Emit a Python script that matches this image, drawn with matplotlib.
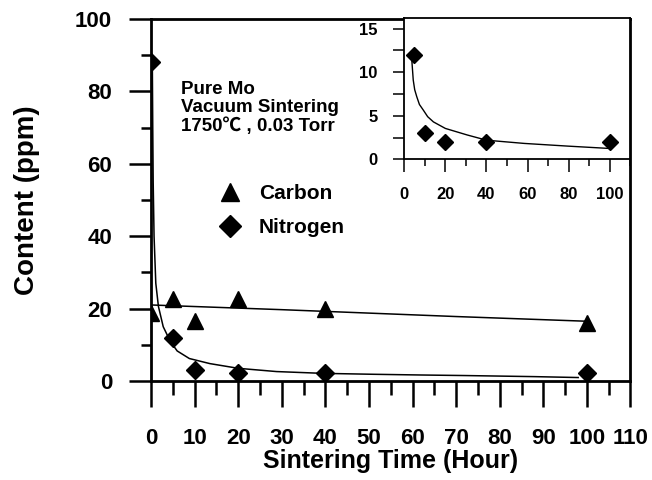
import matplotlib

matplotlib.use("Agg")
import matplotlib.pyplot as plt
from matplotlib.ticker import MultipleLocator
from matplotlib.lines import Line2D

plt.rcParams.update({
    "font.family": ["Liberation Sans", "Noto Sans CJK SC", "DejaVu Sans"],
    "font.weight": "bold",
})

# measured points
time_h = [0, 5, 10, 20, 40, 100]
carbon = [18.7, 22.6, 16.7, 22.7, 19.8, 16.0]
nitrogen = [88, 12, 3.0, 2.1, 2.1, 2.1]

# fitted curves
carbon_fit_x = [0, 30, 70, 100]
carbon_fit_y = [21.0, 19.7, 17.8, 16.5]
n_fit_x = [0.3, 0.4, 0.5, 0.7, 1.1, 1.7, 2.8, 4.4, 6.0, 8.8, 13.5, 20, 28.8,
           39.5, 51, 62, 72, 88, 98]
n_fit_y = [88, 70, 55, 40, 27, 20.6, 15, 11.0, 8.3, 6.2, 4.8, 3.5, 2.6,
           2.1, 1.85, 1.65, 1.5, 1.2, 0.95]

# inset: nitrogen without the t=0 point
inset_x = [5, 10, 20, 40, 100]
inset_y = [12, 3, 2, 2, 2]
inset_fit_x = [3.8, 4.5, 5.2, 6.2, 7.5, 9.4, 11.5, 14.3, 20.1, 30.7, 40.1,
               58.4, 79.6, 99.2]
inset_fit_y = [11.4, 9.1, 8.0, 7.2, 6.3, 5.65, 4.9, 4.3, 3.55, 2.8, 2.2,
               1.83, 1.52, 1.26]

fig = plt.figure(figsize=(6.52, 4.80), dpi=100)
ax = fig.add_axes([0.2316, 0.2063, 0.7354, 0.7541])

ax.plot(carbon_fit_x, carbon_fit_y, color="black", lw=1.1)
ax.plot(n_fit_x, n_fit_y, color="black", lw=1.1)
ax.plot(time_h, carbon, "^", color="black", ms=11, ls="none")
ax.plot(time_h, nitrogen, "D", color="black", ms=9.5, ls="none")

ax.set_xlim(0, 110)
ax.set_ylim(0, 100)
ax.xaxis.set_major_locator(MultipleLocator(10))
ax.xaxis.set_minor_locator(MultipleLocator(5))
ax.yaxis.set_major_locator(MultipleLocator(20))
ax.yaxis.set_minor_locator(MultipleLocator(10))
for s in ax.spines.values():
    s.set_linewidth(2.0)
ax.tick_params(which="major", direction="out", width=1.8, labelsize=16)
ax.tick_params(axis="x", which="major", length=19, pad=15)
ax.tick_params(axis="x", which="minor", length=10, width=1.8)
ax.tick_params(axis="y", which="major", length=16, pad=12)
ax.tick_params(axis="y", which="minor", length=7, width=1.8)
ax.set_xlabel("Sintering Time (Hour)", fontsize=18, fontweight="bold", labelpad=0)
ax.set_ylabel("Content (ppm)", fontsize=20, fontweight="bold", labelpad=25)

ax.text(0.062, 0.83, "Pure Mo\nVacuum Sintering\n1750\u2103 , 0.03 Torr",
        transform=ax.transAxes, fontsize=13.5, fontweight="bold",
        va="top", ha="left", linespacing=1.1)

handles = [Line2D([], [], marker="^", color="black", ls="none", ms=13),
           Line2D([], [], marker="D", color="black", ls="none", ms=11)]
ax.legend(handles, ["Carbon", "Nitrogen"], loc="upper left",
          bbox_to_anchor=(0.082, 0.595), frameon=False,
          prop={"weight": "bold", "size": 15}, labelspacing=0.7,
          handletextpad=0.4)

# inset
ins = fig.add_axes([0.6196, 0.668, 0.3474, 0.294])
ins.plot(inset_fit_x, inset_fit_y, color="black", lw=1.0)
ins.plot(inset_x, inset_y, "D", color="black", ms=8, ls="none")
ins.set_xlim(0, 110)
ins.set_ylim(0, 16.2)
ins.set_xticks([0, 20, 40, 60, 80, 100])
ins.xaxis.set_minor_locator(MultipleLocator(10))
ins.set_yticks([0, 5, 10, 15])
ins.yaxis.set_minor_locator(MultipleLocator(2.5))
for s in ins.spines.values():
    s.set_linewidth(1.3)
ins.tick_params(which="both", direction="out", width=1.1, labelsize=12)
ins.tick_params(axis="x", which="major", length=9, pad=11)
ins.tick_params(axis="x", which="minor", length=5)
ins.tick_params(axis="y", which="both", length=8, pad=11)

fig.savefig("out.png", dpi=100)
